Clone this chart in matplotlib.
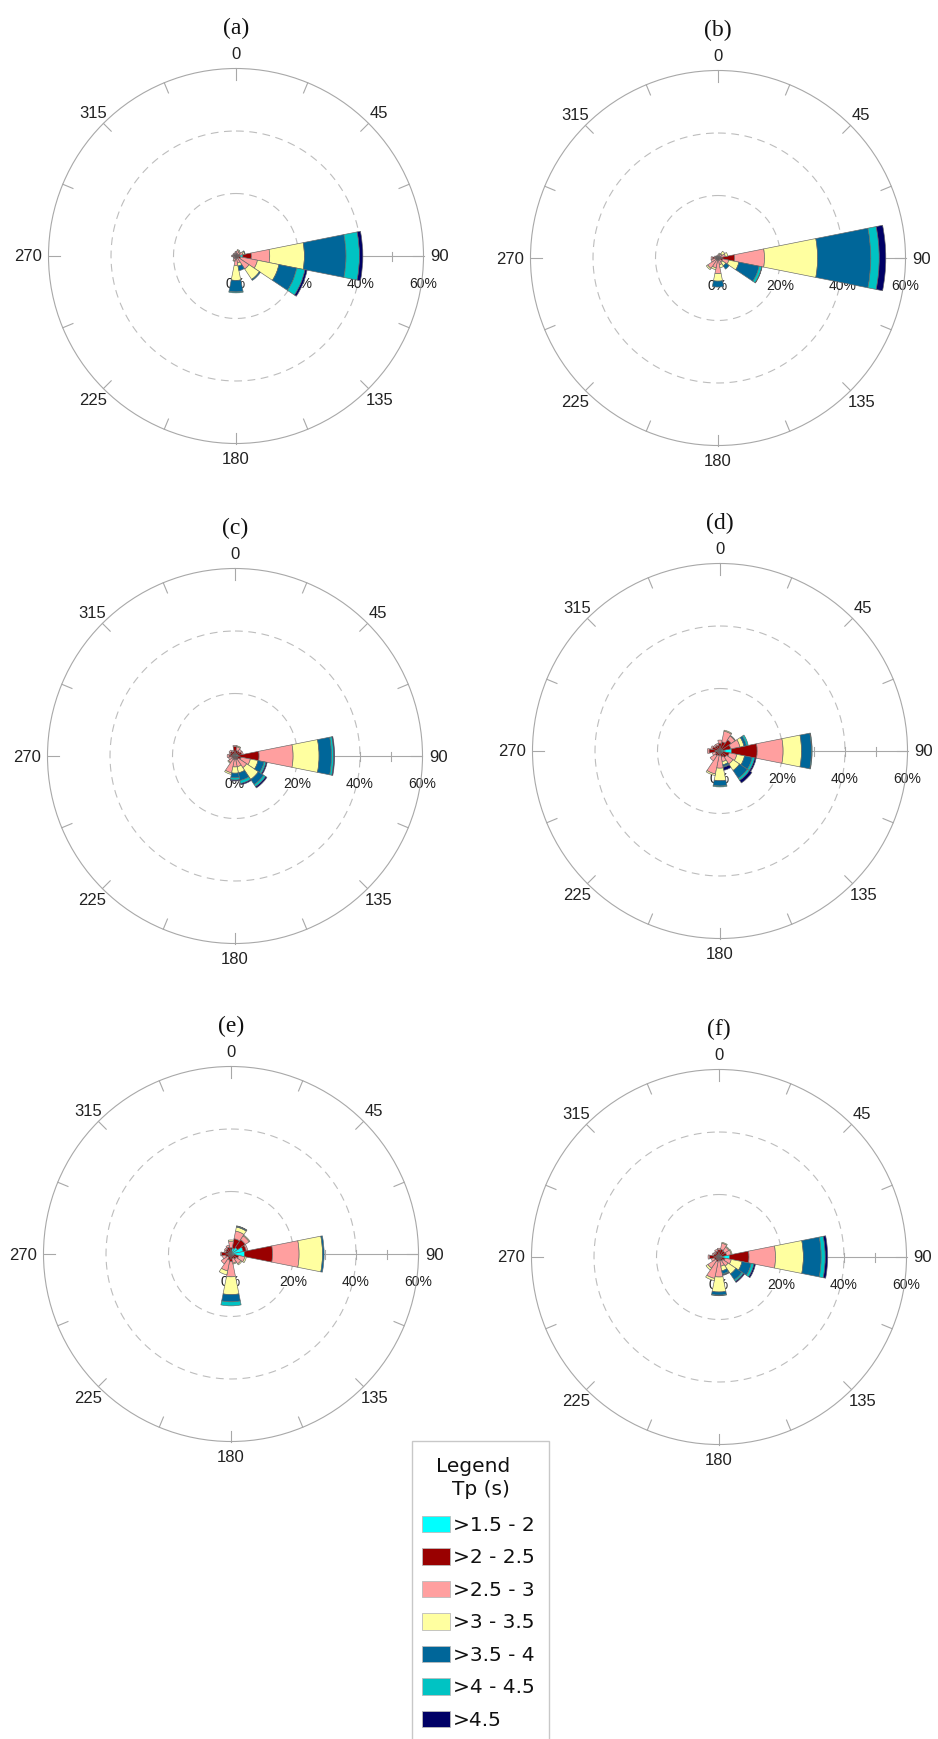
import numpy as np
import matplotlib
matplotlib.use("Agg")
import matplotlib.pyplot as plt
from matplotlib.patches import Rectangle
from matplotlib.transforms import ScaledTranslation

# ---------------------------------------------------------------------------
# Data: frequency (%) of each Tp class for 16 wave directions
# direction order: N, NNE, NE, ENE, E, ESE, SE, SSE, S, SSW, SW, WSW, W, WNW, NW, NNW
# class order: >1.5-2, >2-2.5, >2.5-3, >3-3.5, >3.5-4, >4-4.5, >4.5
# ---------------------------------------------------------------------------
directions = np.arange(0, 360, 22.5)

tp_classes = [">1.5 - 2", ">2 - 2.5", ">2.5 - 3", ">3 - 3.5",
              ">3.5 - 4", ">4 - 4.5", ">4.5"]
tp_colors = ["#00FFFF", "#990000", "#FF9F9F", "#FFFFA0",
             "#006699", "#00C3C3", "#000066"]

panel_a = [
    [0.3, 0.5, 0.7, 0.0, 0.0, 0.0, 0.0],
    [0.3, 0.5, 1.0, 0.3, 0.0, 0.0, 0.0],
    [0.3, 0.4, 0.8, 0.3, 0.0, 0.0, 0.0],
    [0.5, 0.8, 1.0, 0.5, 0.2, 0.0, 0.0],
    [2.2, 2.7, 5.9, 11.1, 13.3, 4.3, 1.1],
    [0.5, 1.0, 5.5, 7.0, 5.8, 2.7, 0.7],
    [0.3, 0.7, 4.0, 4.0, 0.4, 0.0, 0.0],
    [0.3, 0.5, 1.5, 1.0, 1.5, 0.0, 0.0],
    [0.3, 0.7, 2.0, 4.8, 3.7, 0.3, 0.0],
    [0.2, 0.5, 0.8, 0.3, 0.0, 0.0, 0.0],
    [0.2, 0.4, 0.5, 0.0, 0.0, 0.0, 0.0],
    [0.2, 0.4, 0.4, 0.0, 0.0, 0.0, 0.0],
    [0.3, 0.8, 0.3, 0.0, 0.0, 0.0, 0.0],
    [0.2, 0.6, 0.3, 0.0, 0.0, 0.0, 0.0],
    [0.2, 0.5, 0.4, 0.0, 0.0, 0.0, 0.0],
    [0.2, 0.4, 0.5, 0.0, 0.0, 0.0, 0.0],
]

panel_b = [
    [0.1, 0.4, 0.5, 0.0, 0.0, 0.0, 0.0],
    [0.1, 0.4, 0.8, 0.3, 0.0, 0.0, 0.0],
    [0.2, 0.4, 1.0, 1.0, 0.0, 0.0, 0.0],
    [0.3, 0.8, 1.3, 0.8, 0.0, 0.0, 0.0],
    [1.2, 4.1, 9.6, 17.0, 17.0, 2.7, 2.1],
    [0.4, 1.1, 2.0, 3.3, 6.6, 0.9, 0.1],
    [0.2, 0.5, 1.0, 1.3, 1.3, 0.0, 0.0],
    [0.2, 0.5, 1.5, 1.0, 0.0, 0.0, 0.0],
    [0.2, 0.6, 4.2, 2.4, 1.9, 0.0, 0.0],
    [0.2, 0.5, 2.5, 0.6, 0.0, 0.0, 0.0],
    [0.2, 0.5, 3.3, 0.5, 0.0, 0.0, 0.0],
    [0.2, 0.6, 1.5, 0.0, 0.0, 0.0, 0.0],
    [0.2, 1.5, 0.5, 0.0, 0.0, 0.0, 0.0],
    [0.1, 0.8, 0.3, 0.0, 0.0, 0.0, 0.0],
    [0.1, 0.5, 0.3, 0.0, 0.0, 0.0, 0.0],
    [0.1, 0.3, 0.3, 0.0, 0.0, 0.0, 0.0],
]

panel_c = [
    [0.5, 2.5, 0.4, 0.0, 0.0, 0.0, 0.0],
    [0.6, 1.2, 1.2, 0.3, 0.0, 0.0, 0.0],
    [0.8, 1.0, 0.8, 0.0, 0.0, 0.0, 0.0],
    [1.0, 1.2, 0.5, 0.0, 0.0, 0.0, 0.0],
    [1.0, 6.7, 10.9, 8.3, 4.0, 0.7, 0.3],
    [0.5, 1.5, 3.0, 2.5, 2.0, 0.6, 0.4],
    [0.3, 1.0, 3.2, 4.5, 2.0, 0.8, 0.5],
    [0.3, 1.0, 2.2, 2.0, 2.5, 1.0, 0.4],
    [0.3, 0.7, 2.5, 2.0, 1.5, 0.7, 0.3],
    [0.3, 0.9, 4.3, 0.5, 0.0, 0.0, 0.0],
    [0.3, 0.7, 1.5, 0.3, 0.0, 0.0, 0.0],
    [0.3, 0.8, 1.0, 0.0, 0.0, 0.0, 0.0],
    [0.4, 1.5, 0.6, 0.0, 0.0, 0.0, 0.0],
    [0.4, 1.2, 0.4, 0.0, 0.0, 0.0, 0.0],
    [0.6, 1.2, 0.5, 0.0, 0.0, 0.0, 0.0],
    [0.5, 1.0, 0.4, 0.0, 0.0, 0.0, 0.0],
]

panel_d = [
    [0.5, 2.0, 1.0, 0.0, 0.0, 0.0, 0.0],
    [0.5, 2.5, 3.5, 0.3, 0.0, 0.0, 0.0],
    [0.8, 3.5, 1.5, 0.2, 0.0, 0.0, 0.0],
    [1.0, 2.5, 3.0, 1.3, 0.8, 0.6, 0.0],
    [3.7, 8.2, 8.3, 5.9, 3.2, 0.2, 0.0],
    [1.0, 2.0, 2.5, 2.5, 2.5, 0.8, 0.5],
    [0.5, 2.0, 2.5, 2.5, 3.0, 0.8, 1.0],
    [0.3, 1.7, 1.5, 1.0, 0.5, 0.3, 1.0],
    [0.3, 1.2, 4.0, 4.0, 1.7, 0.3, 0.0],
    [0.3, 1.2, 6.0, 0.5, 0.0, 0.0, 0.0],
    [0.3, 1.5, 2.0, 0.0, 0.0, 0.0, 0.0],
    [0.3, 1.2, 1.0, 0.0, 0.0, 0.0, 0.0],
    [1.5, 2.0, 0.5, 0.0, 0.0, 0.0, 0.0],
    [0.5, 2.0, 0.5, 0.0, 0.0, 0.0, 0.0],
    [0.5, 1.5, 0.5, 0.0, 0.0, 0.0, 0.0],
    [0.4, 1.5, 0.6, 0.0, 0.0, 0.0, 0.0],
]

panel_e = [
    [0.5, 1.5, 2.0, 0.5, 0.0, 0.0, 0.0],
    [2.0, 3.0, 2.5, 1.3, 0.3, 0.1, 0.0],
    [2.5, 3.0, 1.5, 0.3, 0.0, 0.0, 0.0],
    [4.0, 1.0, 0.5, 0.0, 0.0, 0.0, 0.0],
    [4.3, 9.0, 8.5, 7.5, 0.5, 0.0, 0.0],
    [1.0, 1.5, 2.0, 0.5, 0.0, 0.0, 0.0],
    [0.8, 1.2, 1.8, 0.4, 0.0, 0.0, 0.0],
    [0.5, 1.0, 1.5, 0.3, 0.0, 0.0, 0.0],
    [0.3, 2.2, 4.8, 5.7, 2.3, 1.3, 0.0],
    [0.5, 1.5, 3.5, 1.3, 0.0, 0.0, 0.0],
    [0.3, 1.0, 2.5, 0.0, 0.0, 0.0, 0.0],
    [0.3, 1.5, 1.0, 0.0, 0.0, 0.0, 0.0],
    [0.5, 2.5, 0.3, 0.0, 0.0, 0.0, 0.0],
    [0.3, 1.5, 0.5, 0.0, 0.0, 0.0, 0.0],
    [0.5, 1.5, 0.5, 0.0, 0.0, 0.0, 0.0],
    [0.5, 1.8, 0.6, 0.0, 0.0, 0.0, 0.0],
]

panel_f = [
    [0.5, 1.8, 0.5, 0.0, 0.0, 0.0, 0.0],
    [0.5, 2.0, 2.0, 0.3, 0.0, 0.0, 0.0],
    [0.8, 1.5, 1.5, 0.3, 0.0, 0.0, 0.0],
    [1.0, 1.5, 1.5, 0.3, 0.0, 0.0, 0.0],
    [3.4, 6.2, 8.5, 8.9, 5.7, 1.3, 0.8],
    [0.5, 1.5, 2.0, 3.5, 3.0, 0.9, 0.5],
    [0.3, 1.2, 2.0, 3.0, 2.3, 0.6, 0.4],
    [0.3, 1.0, 1.7, 1.5, 1.0, 0.3, 0.2],
    [0.3, 0.9, 5.2, 4.8, 1.0, 0.2, 0.0],
    [0.3, 1.2, 5.5, 0.7, 0.0, 0.0, 0.0],
    [0.3, 1.0, 3.0, 0.7, 0.0, 0.0, 0.0],
    [0.3, 1.2, 1.0, 0.0, 0.0, 0.0, 0.0],
    [0.5, 2.5, 0.5, 0.0, 0.0, 0.0, 0.0],
    [0.3, 1.5, 0.5, 0.0, 0.0, 0.0, 0.0],
    [0.4, 1.2, 0.5, 0.0, 0.0, 0.0, 0.0],
    [0.4, 1.5, 0.6, 0.0, 0.0, 0.0, 0.0],
]

panel_labels = ["(a)", "(b)", "(c)", "(d)", "(e)", "(f)"]
panel_data = [panel_a, panel_b, panel_c, panel_d, panel_e, panel_f]

direction_ticks = [0, 45, 90, 135, 180, 225, 270, 315]
radial_ticks = [0, 20, 40, 60]
legend_title = ["Legend", "Tp (s)"]

# ---------------------------------------------------------------------------
# Layout (pixels)
# ---------------------------------------------------------------------------
W, H, DPI = 938, 1740, 100
RMAX = 60.0
RPX = 187.5                       # pixel radius of the 60 % ring
centers = [(236, 257), (718, 259), (235, 757), (720, 752), (231, 1255), (719, 1258)]

SANS = ["Liberation Sans", "DejaVu Sans"]
LEGEND_FONT = ["DejaVu Sans"]
SERIF = ["Liberation Serif", "DejaVu Serif"]
GRID_GREY = "#a8a8a8"
DASH_GREY = "#bdbdbd"

fig = plt.figure(figsize=(W / DPI, H / DPI), dpi=DPI)
fig.patch.set_facecolor("white")

px_per_pct = RPX / RMAX
full_circle = np.linspace(0, 2 * np.pi, 721)

for label, data, (cx, cy) in zip(panel_labels, panel_data, centers):
    ax = fig.add_axes([(cx - RPX) / W, (H - cy - RPX) / H, 2 * RPX / W, 2 * RPX / H],
                      projection="polar")
    ax.set_theta_zero_location("N")
    ax.set_theta_direction(-1)
    ax.set_ylim(0, RMAX)
    ax.grid(False)
    ax.set_xticks([])
    ax.set_yticks([])
    ax.set_facecolor("none")
    ax.spines["polar"].set_color(GRID_GREY)
    ax.spines["polar"].set_linewidth(0.8)

    # dashed reference rings
    for r in (20, 40):
        ax.plot(full_circle, np.full_like(full_circle, r), color=DASH_GREY,
                lw=0.8, linestyle=(0, (7, 5)), zorder=1)

    # radial axis along 90 degrees with small ticks every 10 %
    east = np.deg2rad(90)
    ax.plot([east, east], [0, RMAX], color=GRID_GREY, lw=0.8, zorder=1)
    half = 4.5 / px_per_pct
    for r in range(10, 60, 10):
        dth = np.arctan(half / r)
        rr = np.hypot(r, half)
        ax.plot([east - dth, east + dth], [rr, rr], color=GRID_GREY, lw=0.8, zorder=1)

    # outer ring ticks every 22.5 degrees
    for d in directions:
        t = np.deg2rad(d)
        ax.plot([t, t], [RMAX - 11 / px_per_pct, RMAX], color=GRID_GREY, lw=0.8,
                zorder=1, clip_on=False)

    # radial percentage labels (below the bars)
    shift = ScaledTranslation(0, -27 / DPI, fig.dpi_scale_trans)
    for r in radial_ticks:
        ax.text(east, r, f"{r}%", transform=ax.transData + shift, ha="center",
                va="center", fontsize=10, family=SANS, color="#222222",
                zorder=1.5, clip_on=False)

    # direction labels
    for d in direction_ticks:
        t = np.deg2rad(d)
        if d == 90:
            ax.text(t, 62.2, str(d), ha="left", va="center", fontsize=12,
                    family=SANS, color="#222222", clip_on=False)
        elif d == 270:
            ax.text(t, 62.2, str(d), ha="right", va="center", fontsize=12,
                    family=SANS, color="#222222", clip_on=False)
        else:
            ax.text(t, 64.8, str(d), ha="center", va="center", fontsize=12,
                    family=SANS, color="#222222", clip_on=False)

    # stacked sectors
    vals = np.array(data)
    theta = np.deg2rad(directions)
    base = np.zeros(len(directions))
    for k in range(len(tp_classes)):
        h = vals[:, k]
        m = h > 0
        ax.bar(theta[m], h[m], width=np.deg2rad(22.5), bottom=base[m],
               color=tp_colors[k], edgecolor="#666666", linewidth=0.45,
               align="center", zorder=3)
        base = base + h

    fig.text(cx / W, 1 - (cy - 229) / H, label, ha="center", va="center",
             fontsize=17, family=SERIF, color="#111111")

# ---------------------------------------------------------------------------
# Legend box
# ---------------------------------------------------------------------------
lx0, lx1, ly0, ly1 = 411, 549, 1442, 1750
lax = fig.add_axes([lx0 / W, (H - ly1) / H, (lx1 - lx0) / W, (ly1 - ly0) / H])
lax.set_xlim(lx0, lx1)
lax.set_ylim(ly1, ly0)
lax.axis("off")
lax.add_patch(Rectangle((lx0 + 0.5, ly0 + 0.5), lx1 - lx0 - 1, ly1 - ly0 + 5,
                        facecolor="white", edgecolor="#c8c8c8", lw=1.0, clip_on=False))
lax.text(473, 1467, legend_title[0], ha="center", va="center", fontsize=14.5,
         family=LEGEND_FONT, color="#111111")
lax.text(481, 1490, legend_title[1], ha="center", va="center", fontsize=14.5,
         family=LEGEND_FONT, color="#111111")
for i, (name, col) in enumerate(zip(tp_classes, tp_colors)):
    yc = 1525 + 32.5 * i
    lax.add_patch(Rectangle((422, yc - 8.3), 27.5, 16.6, facecolor=col,
                            edgecolor="#bbbbbb", lw=0.6))
    lax.text(453, yc + 0.5, name, ha="left", va="center", fontsize=14.5,
             family=LEGEND_FONT, color="#111111")

fig.savefig("out.png", dpi=DPI, facecolor="white")
